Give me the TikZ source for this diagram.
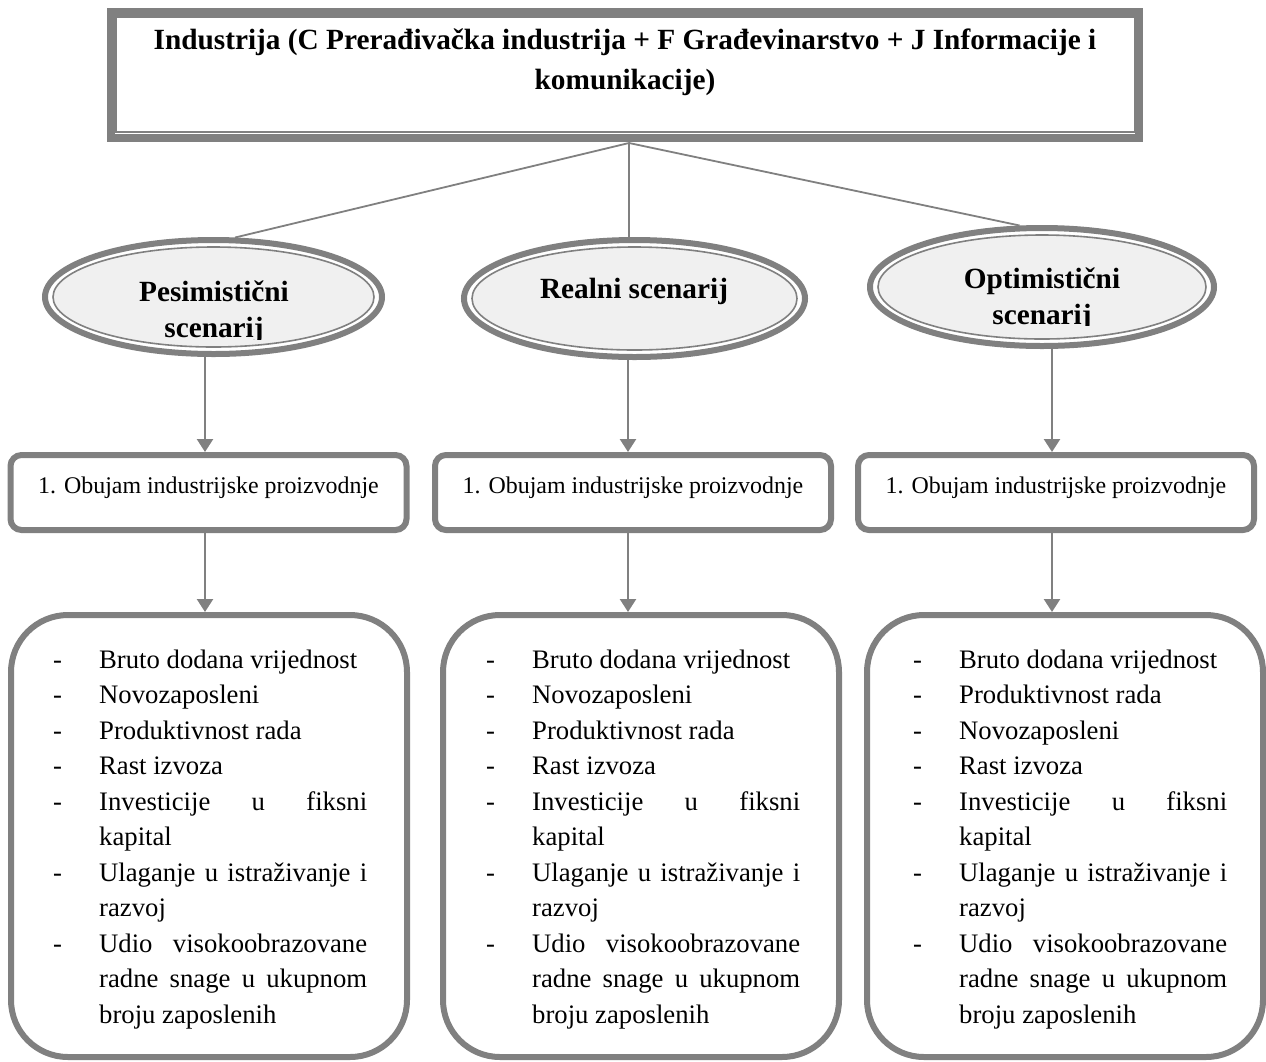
\documentclass[tikz,border=0pt]{standalone}
\usepackage{fontspec}
\setmainfont{Liberation Serif}
\usetikzlibrary{arrows.meta,shapes.geometric,calc}
\definecolor{bord}{HTML}{808080}
\definecolor{ellfill}{HTML}{F0F0F0}
\newcommand{\itm}[1]{\par\noindent\hangindent=54pt\hangafter=1\makebox[54pt][l]{\hspace{8pt}-}#1\par}
\newcommand{\listbox}[1]{\parbox[t]{322pt}{\fontsize{26.7}{35.5}\selectfont\lefthyphenmin=62\tolerance=10000\hbadness=10000\parindent=0pt\parskip=0pt #1}}
\begin{document}
\begin{tikzpicture}[x=1pt,y=-1pt,
  topbox/.style={rectangle, draw=bord, line width=8pt, minimum width=1028pt, minimum height=126pt, inner sep=0pt},
  scen/.style={ellipse, draw=bord, line width=6pt, fill=white, inner sep=0pt},
  innerell/.style={draw=bord, line width=1.6pt, fill=ellfill},
  scentext/.style={anchor=base, inner sep=0pt, font=\fontsize{29.3}{36}\selectfont\bfseries},
  smallbox/.style={rectangle, draw=bord, line width=6pt, rounded corners=11pt, minimum width=396pt, minimum height=75pt, inner sep=0pt, font=\fontsize{23.9}{28}\selectfont, text height=16pt, text depth=15pt},
  bigbox/.style={rectangle, draw=bord, line width=6pt, rounded corners=57pt, minimum width=396pt, minimum height=442pt, inner sep=0pt},
  listtext/.style={anchor=base west, inner sep=0pt},
  link/.style={draw=bord, line width=1.8pt},
  arr/.style={draw=bord, line width=2.5pt, -{Triangle[width=16pt,length=13pt]}}
]
\useasboundingbox (0,0) rectangle (1266,1061);

% top box
\node[topbox] (top) at (625,74.5) {};
\draw[draw=bord, line width=2pt] ([shift={(8.5,9.5)}]top.north west) rectangle ([shift={(-8.5,-9.5)}]top.south east);
\node[anchor=base, inner sep=0pt] (toptext) at (625,49)
  {\parbox[t]{1100pt}{\centering\fontsize{29.3}{40.5}\selectfont\bfseries
   Industrija (C Prerađivačka industrija + F Građevinarstvo + J Informacije i\\ komunikacije)}};

% scenario ellipses
\node[scen, minimum width=337pt, minimum height=114pt] (pes) at (213.5,297) {};
\draw[innerell] (pes.center) ellipse [x radius=160.5, y radius=50];
\node[scen, minimum width=341pt, minimum height=117pt] (rea) at (634.5,298.5) {};
\draw[innerell] (rea.center) ellipse [x radius=162.5, y radius=51.5];
\node[scen, minimum width=344pt, minimum height=118pt] (opt) at (1042,287) {};
\draw[innerell] (opt.center) ellipse [x radius=164, y radius=52];

\begin{scope}
  \clip (0,0) rectangle (440,339);
  \node[scentext] (pestext) at (214,301) {\parbox[t]{300pt}{\centering Pesimistični\\ scenarij}};
\end{scope}
\node[scentext] (reatext) at (634,298) {Realni scenarij};
\begin{scope}
  \clip (840,0) rectangle (1266,325.5);
  \node[scentext] (opttext) at (1042,288) {\parbox[t]{300pt}{\centering Optimistični\\ scenarij}};
\end{scope}

% connectors from top box
\coordinate (apex) at (629,143);
\draw[link] (apex) -- (pes.70);
\draw[link] (apex) -- (apex |- rea.north);
\draw[link] (apex) -- (opt.110);

% small boxes
\node[smallbox] (sb1) at (208.5,492.5) {1. Obujam industrijske proizvodnje};
\node[smallbox] (sb2) at (633,492.5) {1. Obujam industrijske proizvodnje};
\node[smallbox] (sb3) at (1056,492.5) {1. Obujam industrijske proizvodnje};

% big boxes
\node[bigbox] (bb1) at (209,836) {};
\node[bigbox] (bb2) at (641,836) {};
\node[bigbox] (bb3) at (1065,836) {};

% arrows
\coordinate (c1) at (205,0);
\coordinate (c2) at (628,0);
\coordinate (c3) at (1052,0);
\draw[arr] (c1 |- pes.south) -- (c1 |- sb1.north);
\draw[arr] (c2 |- rea.south) -- (c2 |- sb2.north);
\draw[arr] (c3 |- opt.south) -- (c3 |- sb3.north);
\draw[arr] (c1 |- sb1.south) -- (c1 |- bb1.north);
\draw[arr] (c2 |- sb2.south) -- (c2 |- bb2.north);
\draw[arr] (c3 |- sb3.south) -- (c3 |- bb3.north);

% list texts
\node[listtext] (l1) at (45,668) {\listbox{%
  \itm{Bruto dodana vrijednost}
  \itm{Novozaposleni}
  \itm{Produktivnost rada}
  \itm{Rast izvoza}
  \itm{Investicije u fiksni kapital}
  \itm{Ulaganje u istraživanje i razvoj}
  \itm{Udio visokoobrazovane radne snage u ukupnom broju zaposlenih}}};
\node[listtext] (l2) at (478,668) {\listbox{%
  \itm{Bruto dodana vrijednost}
  \itm{Novozaposleni}
  \itm{Produktivnost rada}
  \itm{Rast izvoza}
  \itm{Investicije u fiksni kapital}
  \itm{Ulaganje u istraživanje i razvoj}
  \itm{Udio visokoobrazovane radne snage u ukupnom broju zaposlenih}}};
\node[listtext] (l3) at (905,668) {\listbox{%
  \itm{Bruto dodana vrijednost}
  \itm{Produktivnost rada}
  \itm{Novozaposleni}
  \itm{Rast izvoza}
  \itm{Investicije u fiksni kapital}
  \itm{Ulaganje u istraživanje i razvoj}
  \itm{Udio visokoobrazovane radne snage u ukupnom broju zaposlenih}}};
\end{tikzpicture}
\end{document}
